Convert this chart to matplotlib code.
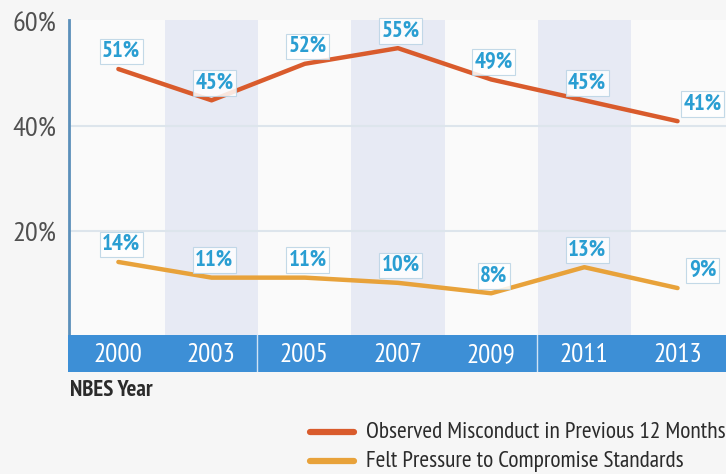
import matplotlib
matplotlib.use("Agg")
import matplotlib.pyplot as plt
from matplotlib.lines import Line2D

years = ["2000", "2003", "2005", "2007", "2009", "2011", "2013"]
misconduct = [51, 45, 52, 55, 49, 45, 41]
pressure = [14, 11, 11, 10, 8, 13, 9]
series_names = ["Observed Misconduct in Previous 12 Months", "Felt Pressure to Compromise Standards"]
y_ticks = [20, 40, 60]

FONT = ["PT Sans Narrow", "DejaVu Sans"]
plt.rcParams["font.family"] = FONT

W, H = 726, 474
fig = plt.figure(figsize=(W / 100, H / 100), dpi=100)
fig.patch.set_facecolor("#f6f6f6")

def box(l, t, r, b):
    return [l / W, 1 - b / H, (r - l) / W, (b - t) / H]

ax = fig.add_axes(box(69, 20, W, 335))
ax.set_facecolor("#fafafa")
x = list(range(len(years)))
ax.set_xlim(-0.53, len(years) - 1 + 0.52)
ax.set_ylim(0, 60.4)

for i in x:
    if i % 2 == 1:
        ax.axvspan(i - 0.5, i + 0.5, color="#e7eaf4", zorder=0, lw=0)
for t in y_ticks[:-1]:
    ax.axhline(t, color="#dde5ec", lw=1.5, zorder=1)

c1, c2 = "#d95b2c", "#e8a23a"
ax.plot(x, misconduct, color=c1, lw=3.2, zorder=3, solid_capstyle="round")
ax.plot(x, pressure, color=c2, lw=3.2, zorder=3, solid_capstyle="round")

last = len(years) - 1
for vals in (misconduct, pressure):
    for i, v in zip(x, vals):
        dx = 18 if i == last else 2
        ax.annotate(f"{v}%", (i, v), xytext=(dx, 5), textcoords="offset points",
                    ha="center", va="bottom", fontsize=16.5, color="#2a9ed2", fontweight="bold",
                    zorder=4,
                    bbox=dict(boxstyle="square,pad=0.1", fc="#ffffff", ec="#b9d3e4", lw=0.8, alpha=0.85))

ax.set_yticks(y_ticks)
ax.set_yticklabels([f"{t}%" for t in y_ticks], fontsize=20.5, color="#505050")
ax.tick_params(axis="y", length=0, pad=9)
ax.set_xticks([])
for s in ["top", "right", "bottom"]:
    ax.spines[s].set_visible(False)
ax.spines["left"].set_color("#5b8fba")
ax.spines["left"].set_linewidth(2)

# year band
bx = fig.add_axes(box(68, 335, W, 372))
bx.set_facecolor("#3d8fd6")
bx.set_xlim(ax.get_xlim())
bx.set_ylim(0, 1)
for i, yr in zip(x, years):
    bx.text(i, 0.45, yr, ha="center", va="center", color="white", fontsize=19.5)
for d in (1.5, 4.5):
    bx.axvline(d, color="#cfe3f5", lw=1)
bx.set_xticks([]); bx.set_yticks([])
for s in bx.spines.values():
    s.set_visible(False)

fig.text(70 / W, 1 - 390 / H, "NBES Year", fontsize=16.5, fontweight="bold", color="#2b2b2b",
         va="center", ha="left")

for name, col, yy in zip(series_names, (c1, c2), (432, 461)):
    fig.add_artist(Line2D([310 / W, 354 / W], [1 - yy / H] * 2, transform=fig.transFigure,
                          color=col, lw=4.5, solid_capstyle="round"))
    fig.text(366 / W, 1 - yy / H, name, fontsize=16.8, color="#2b2b2b", va="center", ha="left")

fig.savefig("out.png", dpi=100, facecolor=fig.get_facecolor())
